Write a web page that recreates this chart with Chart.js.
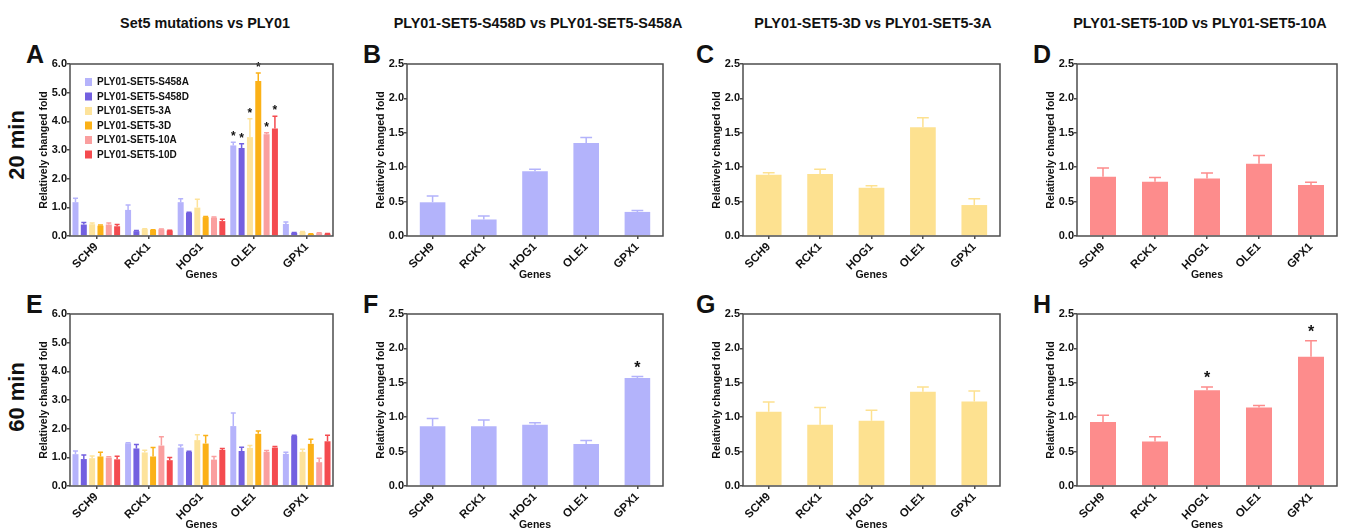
<!DOCTYPE html>
<html>
<head>
<meta charset="utf-8">
<script src="https://cdn.jsdelivr.net/npm/chart.js@4.4.1/dist/chart.umd.min.js"></script>
<style>
  body { margin: 0; background: #fff; width: 1349px; height: 532px; overflow: hidden; position: relative;
         font-family: 'Liberation Sans', Arial, sans-serif; color: #111; }
  .abs { position: absolute; }
  .title { font-size: 15px; font-weight: bold; width: 500px; text-align: center; line-height: 15px;
           white-space: nowrap; transform: scaleX(0.96); }
  .letter { font-size: 25px; font-weight: bold; line-height: 25px; }
  .time { font-size: 22px; font-weight: bold; width: 100px; height: 22px; line-height: 22px;
          text-align: center; transform: rotate(-90deg); }
  canvas { position: absolute; }
</style>
</head>
<body>
<script>
const FONT = "'Liberation Sans', Arial, sans-serif";

const genes = ["SCH9", "RCK1", "HOG1", "OLE1", "GPX1"];
const strains = ["PLY01-SET5-S458A", "PLY01-SET5-S458D", "PLY01-SET5-3A",
                 "PLY01-SET5-3D", "PLY01-SET5-10A", "PLY01-SET5-10D"];
const strainColors = ["#b5b3fb", "#7360e0", "#fde39b", "#fbb117", "#fa9f9f", "#f44b4f"];

// panel A, 20 min, each row is one strain (same order as strains), columns = genes
const foldA = [
  [1.18, 0.91, 1.18, 3.16, 0.42],
  [0.40, 0.17, 0.81, 3.07, 0.11],
  [0.41, 0.24, 0.99, 3.45, 0.14],
  [0.36, 0.21, 0.66, 5.41, 0.07],
  [0.40, 0.23, 0.64, 3.55, 0.10],
  [0.34, 0.19, 0.52, 3.75, 0.08]
];
const errA = [
  [0.14, 0.17, 0.12, 0.11, 0.07],
  [0.07, 0.02, 0.02, 0.15, 0.01],
  [0.04, 0.01, 0.29, 0.64, 0.02],
  [0.02, 0.01, 0.02, 0.28, 0.01],
  [0.05, 0.01, 0.02, 0.05, 0.01],
  [0.06, 0.01, 0.06, 0.43, 0.01]
];
const sigA = [
  [0, 0, 0, 1, 0], [0, 0, 0, 1, 0], [0, 0, 0, 1, 0],
  [0, 0, 0, 1, 0], [0, 0, 0, 1, 0], [0, 0, 0, 1, 0]
];

// panel E, 60 min
const foldE = [
  [1.11, 1.49, 1.34, 2.09, 1.12],
  [0.94, 1.31, 1.19, 1.22, 1.75],
  [0.97, 1.17, 1.60, 1.33, 1.19],
  [1.03, 1.03, 1.48, 1.82, 1.47],
  [0.99, 1.41, 0.92, 1.19, 0.83],
  [0.93, 0.90, 1.26, 1.34, 1.56]
];
const errE = [
  [0.11, 0.02, 0.09, 0.46, 0.06],
  [0.14, 0.14, 0.02, 0.13, 0.02],
  [0.08, 0.08, 0.19, 0.08, 0.09],
  [0.15, 0.31, 0.28, 0.10, 0.16],
  [0.03, 0.31, 0.11, 0.05, 0.14],
  [0.11, 0.09, 0.05, 0.04, 0.21]
];

// pairwise comparisons
const foldB = [0.49, 0.24, 0.94, 1.35, 0.35];
const errB  = [0.09, 0.05, 0.03, 0.08, 0.02];
const foldC = [0.89, 0.90, 0.70, 1.58, 0.45];
const errC  = [0.03, 0.07, 0.03, 0.14, 0.09];
const foldD = [0.86, 0.79, 0.835, 1.05, 0.74];
const errD  = [0.13, 0.06, 0.08, 0.12, 0.04];
const foldF = [0.87, 0.87, 0.89, 0.61, 1.57];
const errF  = [0.11, 0.09, 0.03, 0.05, 0.02];
const sigF  = [0, 0, 0, 0, 1];
const foldG = [1.08, 0.89, 0.95, 1.37, 1.23];
const errG  = [0.14, 0.25, 0.15, 0.07, 0.15];
const foldH = [0.93, 0.645, 1.39, 1.14, 1.88];
const errH  = [0.10, 0.07, 0.05, 0.03, 0.23];
const sigH  = [0, 0, 1, 0, 1];

const titles = ["Set5 mutations vs PLY01", "PLY01-SET5-S458D vs PLY01-SET5-S458A",
                "PLY01-SET5-3D vs PLY01-SET5-3A", "PLY01-SET5-10D vs PLY01-SET5-10A"];
const letters = ["A", "B", "C", "D", "E", "F", "G", "H"];
const times = ["20 min", "60 min"];

// layout
const plotLeft = [70, 407, 743, 1077];
const plotW = [263, 256, 257, 260];
const plotTop = [64, 314];
const plotH = 172;
const titleX = [205, 538, 873, 1200];
const letterX = [26, 363, 696, 1033];

Chart.defaults.font.family = FONT;
Chart.defaults.color = "#111";

function addDiv(cls, text, css) {
  const d = document.createElement("div");
  d.className = "abs " + cls;
  d.textContent = text;
  Object.assign(d.style, css);
  document.body.appendChild(d);
}

titles.forEach((t, i) => addDiv("title", t, { left: (titleX[i] - 250) + "px", top: "15px" }));
letters.forEach((l, i) => {
  const row = Math.floor(i / 4);
  addDiv("letter", l, { left: letterX[i % 4] + "px", top: (row ? 292 : 42) + "px" });
});
addDiv("time", times[0], { left: "-33px", top: "134px" });
addDiv("time", times[1], { left: "-33px", top: "386px" });

// error bars (mean + SD, upward only) and significance stars
const errorBars = {
  id: "errorBars",
  afterDatasetsDraw(chart) {
    const ctx = chart.ctx;
    const y = chart.scales.y;
    chart.data.datasets.forEach((ds, i) => {
      const meta = chart.getDatasetMeta(i);
      meta.data.forEach((bar, j) => {
        const top = y.getPixelForValue(ds.data[j] + ds.errs[j]);
        const half = Math.max(bar.width * 0.23, 2.5);
        ctx.save();
        ctx.strokeStyle = ds.backgroundColor;
        ctx.lineWidth = 1.5;
        ctx.beginPath();
        ctx.moveTo(bar.x, bar.y);
        ctx.lineTo(bar.x, top);
        ctx.moveTo(bar.x - half, top);
        ctx.lineTo(bar.x + half, top);
        ctx.stroke();
        if (ds.sig && ds.sig[j]) {
          const small = chart.data.datasets.length > 1;
          ctx.fillStyle = "#111";
          ctx.font = "bold " + (small ? 12 : 16) + "px " + FONT;
          ctx.textAlign = "center";
          ctx.textBaseline = "alphabetic";
          ctx.fillText("*", bar.x, top - (small ? 2 : 4));
        }
        ctx.restore();
      });
    });
  }
};

const frame = {
  id: "frame",
  afterDatasetsDraw(chart) {
    const { ctx, chartArea: a } = chart;
    ctx.save();
    ctx.strokeStyle = "#4d4d4d";
    ctx.lineWidth = 1.5;
    ctx.strokeRect(a.left, a.top, a.right - a.left, a.bottom - a.top);
    ctx.restore();
  }
};

const insideLegend = {
  id: "insideLegend",
  afterDraw(chart) {
    const { ctx, chartArea: a } = chart;
    ctx.save();
    ctx.font = "bold 10px " + FONT;
    ctx.textBaseline = "middle";
    chart.data.datasets.forEach((ds, i) => {
      const y = a.top + 18 + i * 14.5;
      ctx.fillStyle = ds.backgroundColor;
      ctx.fillRect(a.left + 15, y - 4, 7, 8);
      ctx.fillStyle = "#111";
      ctx.fillText(ds.label, a.left + 27, y + 0.5);
    });
    ctx.restore();
  }
};

function makePanel(col, row, datasets, yMax, yStep, grouped) {
  const c = document.createElement("canvas");
  const w = 36 + plotW[col] + 4;
  const h = 8 + plotH + 46;
  c.width = w; c.height = h;
  c.style.left = (plotLeft[col] - 36) + "px";
  c.style.top = (plotTop[row] - 8) + "px";
  document.body.appendChild(c);

  const plugins = [errorBars, frame];
  if (grouped && row === 0) plugins.push(insideLegend);

  return new Chart(c, {
    type: "bar",
    data: { labels: genes, datasets: datasets },
    options: {
      responsive: false,
      animation: false,
      layout: { padding: { top: 8, right: 4, left: 0, bottom: 0 } },
      datasets: {
        bar: grouped ? { categoryPercentage: 0.95, barPercentage: 0.72 }
                     : { categoryPercentage: 1, barPercentage: 0.5 }
      },
      plugins: { legend: { display: false }, tooltip: { enabled: false } },
      scales: {
        x: {
          grid: { drawOnChartArea: false, drawTicks: true, tickLength: 3, offset: false,
                  color: "#4d4d4d", lineWidth: 1.5 },
          border: { display: false },
          ticks: { autoSkip: false, maxRotation: 45, minRotation: 45, padding: 1,
                   font: { size: 11.5, weight: "bold" }, color: "#111" },
          title: { display: true, text: "Genes", padding: { top: 0, bottom: 1 },
                   font: { size: 10.5, weight: "bold" }, color: "#111" },
          afterFit: s => { s.height = 46; }
        },
        y: {
          min: 0, max: yMax,
          grid: { drawOnChartArea: false, drawTicks: true, tickLength: 3,
                  color: "#4d4d4d", lineWidth: 1.5 },
          border: { display: false },
          ticks: { stepSize: yStep, padding: 0, callback: v => v.toFixed(1),
                   font: { size: 11, weight: "bold" }, color: "#111" },
          title: { display: true, text: "Relatively changed fold", padding: { top: 4, bottom: 0 },
                   font: { size: 10.5, weight: "bold" }, color: "#111" },
          afterFit: s => { s.width = 36; }
        }
      }
    },
    plugins: plugins
  });
}

function groupedSets(folds, errs, sigs) {
  return strains.map((s, i) => ({
    label: s,
    data: folds[i],
    errs: errs[i],
    sig: sigs ? sigs[i] : null,
    backgroundColor: strainColors[i],
    borderWidth: 0
  }));
}

function singleSet(fold, err, sig, color) {
  return [{ label: "fold", data: fold, errs: err, sig: sig, backgroundColor: color, borderWidth: 0 }];
}

makePanel(0, 0, groupedSets(foldA, errA, sigA), 6, 1, true);
makePanel(1, 0, singleSet(foldB, errB, null, "#b3b3fb"), 2.5, 0.5, false);
makePanel(2, 0, singleSet(foldC, errC, null, "#fde190"), 2.5, 0.5, false);
makePanel(3, 0, singleSet(foldD, errD, null, "#fd8c8c"), 2.5, 0.5, false);
makePanel(0, 1, groupedSets(foldE, errE, null), 6, 1, true);
makePanel(1, 1, singleSet(foldF, errF, sigF, "#b3b3fb"), 2.5, 0.5, false);
makePanel(2, 1, singleSet(foldG, errG, null, "#fde190"), 2.5, 0.5, false);
makePanel(3, 1, singleSet(foldH, errH, sigH, "#fd8c8c"), 2.5, 0.5, false);
</script>
</body>
</html>
